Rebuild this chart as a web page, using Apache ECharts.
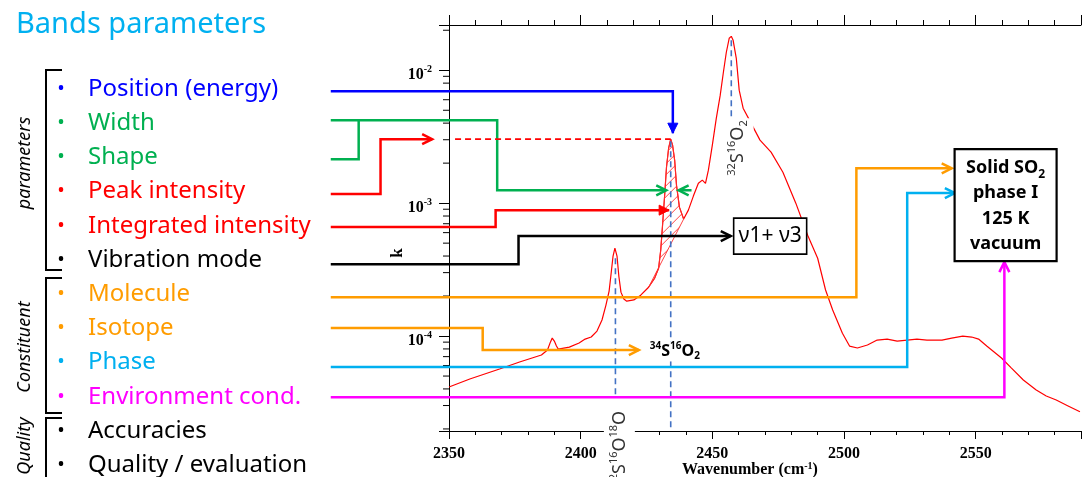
<!DOCTYPE html>
<html><head><meta charset="utf-8">
<script src="https://cdn.jsdelivr.net/npm/echarts@6/dist/echarts.min.js"></script>
<style>html,body{margin:0;padding:0;background:#fff}#c{width:1084px;height:477px}</style>
</head><body><div id="c"></div>
<script>
// ---------- data ----------
const wavenumber = [2350.0,2357.9,2369.2,2376.8,2385.1,2387.4,2388.5,2389.2,2390.0,2390.8,2391.5,2395.7,2399.4,2401.7,2404.0,2406.2,2408.1,2409.6,2410.8,2411.5,2412.3,2413.0,2413.8,2414.5,2415.3,2416.4,2417.5,2420.2,2422.8,2425.8,2428.1,2429.6,2430.4,2431.1,2431.9,2432.6,2433.4,2434.2,2434.9,2435.7,2436.4,2437.5,2439.1,2440.9,2442.8,2444.7,2446.2,2447.4,2448.5,2450.0,2451.5,2453.0,2454.2,2455.3,2456.4,2457.2,2457.9,2459.1,2460.2,2461.7,2464.3,2468.1,2472.3,2476.8,2481.7,2486.2,2490.0,2493.0,2495.7,2499.4,2502.1,2505.1,2508.9,2512.6,2516.4,2520.2,2524.0,2527.7,2531.5,2537.2,2540.9,2545.1,2548.5,2551.1,2554.2,2559.8,2563.6,2568.1,2573.0,2576.8,2580.6,2585.1,2589.6];
const kValues = [4.14e-5,4.75e-5,5.65e-5,6.38e-5,7.2e-5,7.85e-5,9.0e-5,9.66e-5,9.17e-5,8.41e-5,7.98e-5,8.26e-5,8.86e-5,9.49e-5,9.83e-5,1.09e-4,1.32e-4,1.71e-4,2.18e-4,2.88e-4,4.0e-4,4.59e-4,4.0e-4,2.82e-4,2.14e-4,1.90e-4,1.83e-4,1.87e-4,2.03e-4,2.33e-4,2.73e-4,3.24e-4,4.43e-4,6.84e-4,1.15e-3,1.87e-3,2.59e-3,3.03e-3,2.73e-3,2.10e-3,1.36e-3,9.33e-4,7.59e-4,8.86e-4,1.13e-3,1.41e-3,1.49e-3,1.41e-3,1.77e-3,2.73e-3,4.35e-3,6.49e-3,9.66e-3,1.36e-2,1.74e-2,1.80e-2,1.68e-2,1.23e-2,7.08e-3,5.18e-3,4.14e-3,2.98e-3,2.42e-3,1.71e-3,1.0e-3,5.74e-4,3.85e-4,2.22e-4,1.57e-4,1.05e-4,8.41e-5,8.13e-5,8.56e-5,9.33e-5,9.49e-5,9.17e-5,9.33e-5,9.49e-5,9.33e-5,9.33e-5,9.66e-5,1.0e-4,9.83e-5,9.49e-5,8.41e-5,6.84e-5,5.74e-5,4.67e-5,3.93e-5,3.54e-5,3.30e-5,2.98e-5,2.69e-5];
const xRange = [2350, 2590];
const kRange = [1.93e-5, 0.0219];
const xMajorStep = 50, xMinorStep = 10;
const yMinorTicks = [2e-5,3e-5,4e-5,5e-5,6e-5,7e-5,8e-5,9e-5,2e-4,3e-4,4e-4,5e-4,6e-4,7e-4,8e-4,9e-4,2e-3,3e-3,4e-3,5e-3,6e-3,7e-3,8e-3,9e-3,2e-2];
const hatchRange = [2425.8, 2439.1];
// peak marker lines [wavenumber, kTop, kBottom]
const peakMarkers = [[2413.2,3.85e-4,3.6e-5],[2434.2,2.92e-3,1.93e-5],[2457.2,1.68e-2,4.43e-3]];
const rowLabels = ['Position (energy)','Width','Shape','Peak intensity','Integrated intensity','Vibration mode','Molecule','Isotope','Phase','Environment cond.','Accuracies','Quality / evaluation'];
const groupLabels = ['parameters','Constituent','Quality'];
// annotation connectors, points in [wavenumber, k]
const connectors = [
  {c:'#0000FF', p:[[2305.1,6.95e-3],[2435.0,6.95e-3],[2435.0,3.36e-3]], h:'fill'},
  {c:'#00B050', p:[[2305.1,4.21e-3],[2368.3,4.21e-3],[2368.3,1.25e-3],[2432.5,1.25e-3]], h:'open'},
  {c:'#00B050', p:[[2305.1,2.14e-3],[2315.7,2.14e-3],[2315.7,4.21e-3]], h:null},
  {c:'#00B050', p:[[2442.1,1.25e-3],[2437.2,1.25e-3]], h:'open'},
  {c:'#FF0000', p:[[2305.1,1.17e-3],[2324.0,1.17e-3],[2324.0,3.03e-3],[2343.6,3.03e-3]], h:'open'},
  {c:'#FF0000', p:[[2352.3,3.03e-3],[2434.2,3.03e-3]], h:null, dash:true},
  {c:'#FF0000', p:[[2305.1,6.61e-4],[2367.7,6.61e-4],[2367.7,8.86e-4],[2433.6,8.86e-4]], h:'fill'},
  {c:'#000000', p:[[2305.1,3.47e-4],[2376.4,3.47e-4],[2376.4,5.65e-4],[2457.0,5.65e-4]], h:'open'},
  {c:'#FF9C00', p:[[2305.1,1.96e-4],[2504.7,1.96e-4],[2504.7,1.83e-3],[2540.9,1.83e-3]], h:'open'},
  {c:'#FF9C00', p:[[2305.1,1.15e-4],[2362.8,1.15e-4],[2362.8,7.85e-5],[2422.1,7.85e-5]], h:'open'},
  {c:'#00B0F0', p:[[2305.1,5.85e-5],[2524.0,5.85e-5],[2524.0,1.19e-3],[2542.1,1.19e-3]], h:'open'},
  {c:'#FF00FF', p:[[2305.1,3.47e-5],[2560.9,3.47e-5],[2560.9,3.6e-4]], h:'open'}
];
// text annotations anchored in [wavenumber, k]
const notes = [
  {at:[2458.1,5.65e-4], box:[73,36], text:'ν1+ ν3', kind:'nu'},
  {at:[2542.0,2.55e-3], box:[102,112], text:'{b|Solid SO}{d|2}\n{b|phase I}\n{b|125 K}\n{b|vacuum}', kind:'so2'},
  {at:[2425.5,7.7e-5], text:'{s|34}{b|S}{s|16}{b|O}{d|2}', kind:'iso'},
  {at:[2459.8,2.6e-3], text:'{s|32}{b|S}{s|16}{b|O}{d|2}', kind:'rot'},
  {at:[2414.7,1.42e-5], text:'{s|32}{b|S}{s|16}{b|O}{s|18}{b|O}', kind:'rot'}
];

// ---------- styles / layout ----------
const rowColors = ['#0000FF','#00B050','#00B050','#FF0000','#FF0000','#000000','#FF9C00','#FF9C00','#00B0F0','#FF00FF','#000000','#000000'];
const SERIF = '"Liberation Serif","Times New Roman",serif';
const SANS = '"Noto Sans","Open Sans",sans-serif';

function arrowHead(tip, from, type, color){
  const dx = tip[0]-from[0], dy = tip[1]-from[1], len = Math.hypot(dx,dy)||1;
  const ux = dx/len, uy = dy/len, L = 10, W = 5;
  const bx = tip[0]-ux*L, by = tip[1]-uy*L;
  const p1 = [bx-uy*W, by+ux*W], p2 = [bx+uy*W, by-ux*W];
  if (type === 'fill') return {type:'polygon', shape:{points:[tip,p1,p2]}, style:{fill:color, stroke:color, lineWidth:1}};
  return {type:'polyline', shape:{points:[p1,tip,p2]}, style:{stroke:color, lineWidth:2.5, fill:'none'}};
}

const graphic = [];
graphic.push({type:'text', x:16, y:25, style:{text:'Bands parameters', fill:'#00B0F0', font:'29px '+SANS, verticalAlign:'middle'}});
rowLabels.forEach((t,i)=>{
  const y = 89 + i*34.2;
  graphic.push({type:'text', x:61, y:y, style:{text:'•', fill:rowColors[i], font:'20px '+SANS, align:'center', verticalAlign:'middle'}});
  graphic.push({type:'text', x:88, y:y, style:{text:t, fill:rowColors[i], font:'24px '+SANS, verticalAlign:'middle'}});
});
[[70,270],[278,413],[418,490]].forEach(b=>{
  graphic.push({type:'polyline', shape:{points:[[62,b[0]],[46,b[0]],[46,b[1]],[62,b[1]]]}, style:{stroke:'#000', lineWidth:2, fill:'none'}});
});
[[163],[347],[446]].forEach((c,i)=>{
  graphic.push({type:'text', x:25, y:c[0], rotation:Math.PI/2, style:{text:groupLabels[i], fill:'#000', font:'italic 18px '+SANS, align:'center', verticalAlign:'middle'}});
});
graphic.push({type:'text', x:398, y:253, rotation:Math.PI/2, style:{text:'k', fill:'#000', font:'bold 17px '+SERIF, align:'center', verticalAlign:'middle'}});
graphic.push({type:'text', x:682, y:470, style:{text:'{b|Wavenumber (cm}{s|-1}{b|)}', align:'left', verticalAlign:'middle',
  rich:{b:{font:'bold 16px '+SERIF, fill:'#000', lineHeight:18}, s:{font:'bold 10px '+SERIF, fill:'#000', lineHeight:10, verticalAlign:'top'}}}});

const chart = echarts.init(document.getElementById('c'), null, {renderer:'canvas'});
const axisCommon = {min:xRange[0], max:xRange[1], splitLine:{show:false}, axisLabel:{show:false}};
chart.setOption({
  animation:false,
  backgroundColor:'#fff',
  grid:{left:449, right:0, top:25, bottom:46, containLabel:false},
  xAxis:[
    Object.assign({}, axisCommon, {type:'value', position:'bottom', interval:xMajorStep,
      axisLine:{show:true, lineStyle:{color:'#000', width:1}},
      axisTick:{show:true, length:8, lineStyle:{color:'#000'}},
      axisLabel:{show:true, margin:15, color:'#000', fontFamily:SERIF, fontWeight:'bold', fontSize:16,
        formatter:v => (v % xMajorStep === 0 && v <= 2550) ? String(v) : ''}}),
    Object.assign({}, axisCommon, {type:'value', position:'bottom', interval:xMinorStep,
      axisLine:{show:false}, axisTick:{show:true, length:4, lineStyle:{color:'#000'}}}),
    Object.assign({}, axisCommon, {type:'value', position:'top', interval:xMajorStep,
      axisLine:{show:true, lineStyle:{color:'#000', width:1}}, axisTick:{show:true, length:10, lineStyle:{color:'#000'}}}),
    Object.assign({}, axisCommon, {type:'value', position:'top', interval:xMinorStep,
      axisLine:{show:false}, axisTick:{show:true, length:5, lineStyle:{color:'#000'}}})
  ],
  yAxis:[
    {type:'log', min:kRange[0], max:kRange[1], position:'left', splitLine:{show:false},
      axisLine:{show:true, lineStyle:{color:'#000', width:1}},
      axisTick:{show:true, length:10, lineStyle:{color:'#000'}},
      axisLabel:{margin:17, padding:[10,0,0,0],
        formatter:v => { const e = Math.log10(v), r = Math.round(e); return Math.abs(e-r) < 1e-6 ? '{b|10}{s|' + r + '}' : ''; },
        rich:{b:{fontFamily:SERIF, fontWeight:'bold', fontSize:16, color:'#000', lineHeight:22},
              s:{fontFamily:SERIF, fontWeight:'bold', fontSize:10, color:'#000', lineHeight:10, verticalAlign:'top'}}}}
  ],
  graphic: graphic,
  series:[
    {type:'line', name:'k', data:wavenumber.map((w,i)=>[w,kValues[i]]), symbol:'none',
      lineStyle:{color:'#FF0000', width:1.2}, z:3},
    {type:'custom', name:'yMinorTicks', clip:false, data:yMinorTicks.map(v=>[xRange[0], v]), z:2, silent:true,
      renderItem:(params, api)=>{
        const p = api.coord([xRange[0], yMinorTicks[params.dataIndex]]);
        return {type:'line', shape:{x1:p[0]-6, y1:p[1], x2:p[0], y2:p[1]}, style:{stroke:'#000', lineWidth:1}};
      }},
    {type:'custom', name:'hatch', clip:false, data:[[hatchRange[0], 1e-3]], z:4, silent:true,
      renderItem:(params, api)=>{
        const pts = [];
        wavenumber.forEach((w,i)=>{ if (w >= hatchRange[0] && w <= hatchRange[1]) pts.push(api.coord([w,kValues[i]])); });
        let x0=Infinity,x1=-Infinity,y0=Infinity,y1=-Infinity;
        pts.forEach(p=>{x0=Math.min(x0,p[0]);x1=Math.max(x1,p[0]);y0=Math.min(y0,p[1]);y1=Math.max(y1,p[1]);});
        const lines = [];
        const span = (x1-x0)+(y1-y0);
        for (let d = -span; d <= span; d += 11) {
          lines.push({type:'line', shape:{x1:x0-5, y1:y1+5+d, x2:x1+span, y2:y1+5+d-(x1+span-x0+5)}, style:{stroke:'#FF3030', lineWidth:0.9}});
        }
        return {type:'group', children:[
          {type:'group', clipPath:{type:'polygon', shape:{points:pts}}, children:lines},
          {type:'polygon', shape:{points:pts}, style:{fill:'none', stroke:'#FF3030', lineWidth:0.9}}
        ]};
      }},
    {type:'custom', name:'markers', clip:false, data:peakMarkers.map(m=>[m[0],m[1]]), z:4, silent:true,
      renderItem:(params, api)=>{
        const m = peakMarkers[params.dataIndex];
        const a = api.coord([m[0],m[1]]), b = api.coord([m[0],m[2]]);
        return {type:'line', shape:{x1:a[0], y1:a[1], x2:b[0], y2:b[1]}, style:{stroke:'#4472C4', lineWidth:1.6, lineDash:[6,4]}};
      }},
    {type:'custom', name:'connectors', clip:false, data:connectors.map(c=>c.p[0]), z:6, silent:true,
      renderItem:(params, api)=>{
        const c = connectors[params.dataIndex];
        const pts = c.p.map(p=>api.coord(p));
        const ch = [{type:'polyline', shape:{points:pts}, style:{stroke:c.c, lineWidth:c.dash?1.6:2.5, fill:'none', lineDash:c.dash?[6,4]:null}}];
        if (c.h) ch.push(arrowHead(pts[pts.length-1], pts[pts.length-2], c.h, c.c));
        return {type:'group', children:ch};
      }},
    {type:'custom', name:'notes', clip:false, data:notes.map(n=>n.at), z:7, silent:true,
      renderItem:(params, api)=>{
        const n = notes[params.dataIndex];
        const p = api.coord(n.at);
        if (n.kind === 'nu') {
          return {type:'group', children:[
            {type:'rect', shape:{x:p[0], y:p[1]-n.box[1]/2, width:n.box[0], height:n.box[1]}, style:{fill:'#fff', stroke:'#000', lineWidth:1.6}},
            {type:'text', x:p[0]+n.box[0]/2, y:p[1], style:{text:n.text, font:'21px '+SANS, fill:'#000', align:'center', verticalAlign:'middle'}}
          ]};
        }
        if (n.kind === 'so2') {
          return {type:'group', children:[
            {type:'rect', shape:{x:p[0], y:p[1], width:n.box[0], height:n.box[1]}, style:{fill:'#fff', stroke:'#000', lineWidth:2.2}},
            {type:'text', x:p[0]+n.box[0]/2, y:p[1]+n.box[1]/2+1, style:{text:n.text, align:'center', verticalAlign:'middle',
              rich:{b:{font:'bold 18px '+SANS, fill:'#000', lineHeight:25.5}, d:{font:'bold 12px '+SANS, fill:'#000', lineHeight:16, verticalAlign:'bottom'}}}}
          ]};
        }
        if (n.kind === 'iso') {
          return {type:'text', x:p[0], y:p[1], style:{text:n.text, align:'left', verticalAlign:'middle', backgroundColor:'#fff', padding:[0,2],
            rich:{b:{font:'bold 16px '+SANS, fill:'#000', lineHeight:20}, s:{font:'bold 10px '+SANS, fill:'#000', lineHeight:12, verticalAlign:'top'}, d:{font:'bold 10px '+SANS, fill:'#000', lineHeight:12, verticalAlign:'bottom'}}}};
        }
        return {type:'text', x:p[0], y:p[1], rotation:Math.PI/2, style:{text:n.text, align:'center', verticalAlign:'middle', backgroundColor:'#fff', padding:[4,2],
          rich:{b:{font:'18px '+SANS, fill:'#333', lineHeight:23}, s:{font:'11px '+SANS, fill:'#333', lineHeight:13, verticalAlign:'top'}, d:{font:'11px '+SANS, fill:'#333', lineHeight:13, verticalAlign:'bottom'}}}};
      }}
  ]
});
</script></body></html>
